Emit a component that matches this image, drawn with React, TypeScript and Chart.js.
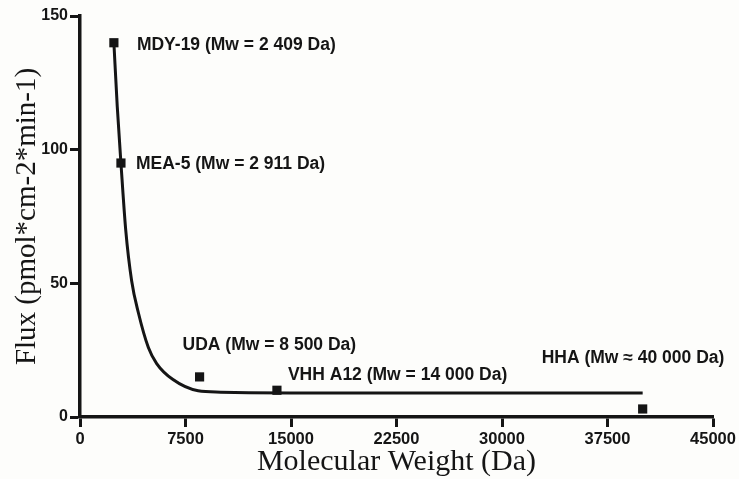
import { useEffect, useRef } from "react";
import { Chart, registerables } from "chart.js";

Chart.register(...registerables);

// Measured peptides / proteins
const pointNames = [
  "MDY-19 (Mw = 2 409 Da)",
  "MEA-5 (Mw = 2 911 Da)",
  "UDA (Mw = 8 500 Da)",
  "VHH A12 (Mw = 14 000 Da)",
  "HHA (Mw \u2248 40 000 Da)",
];
const pointMw = [2409, 2911, 8500, 14000, 40000];
const pointFlux = [140, 95, 15, 10, 3];

// Fitted decay curve
const curveMw = [2409, 2650, 2911, 3250, 3670, 4150, 4860, 5450, 6610, 8400, 10000, 12000, 15000, 20000, 30000, 40000];
const curveFlux = [140, 116, 95, 70, 51, 39, 26, 20, 14, 9.8, 9.3, 9.1, 9.0, 9.0, 9.0, 9.0];

const xTicks = [0, 7500, 15000, 22500, 30000, 37500, 45000];
const yTicks = [0, 50, 100, 150];

const xTitle = "Molecular Weight (Da)";
const yTitle = "Flux (pmol*cm-2*min-1)";

// label offsets (pixels) relative to each point
const labelDx = [23, 15, -17, 11, -101];
const labelDy = [2, 1, -32, -15, -51];

const INK = "#151515";
const SANS = "'Liberation Sans', Arial, sans-serif";
const SERIF = "'Liberation Serif', 'Times New Roman', serif";

const labelPlugin = {
  id: "pointLabels",
  afterDatasetsDraw(chart: any) {
    const { ctx, scales } = chart;
    ctx.save();
    ctx.fillStyle = INK;
    ctx.font = `bold 17.5px ${SANS}`;
    ctx.textAlign = "left";
    ctx.textBaseline = "middle";
    pointNames.forEach((name, i) => {
      const px = scales.x.getPixelForValue(pointMw[i]) + labelDx[i];
      const py = scales.y.getPixelForValue(pointFlux[i]) + labelDy[i];
      ctx.fillText(name, px, py);
    });
    ctx.restore();
  },
};

export default function App() {
  const ref = useRef<HTMLCanvasElement | null>(null);

  useEffect(() => {
    if (!ref.current) return;
    const chart = new Chart(ref.current, {
      type: "scatter",
      data: {
        datasets: [
          {
            type: "line",
            label: "fit",
            data: curveMw.map((x, i) => ({ x, y: curveFlux[i] })),
            borderColor: INK,
            borderWidth: 3,
            pointRadius: 0,
            fill: false,
            cubicInterpolationMode: "monotone",
          } as any,
          {
            type: "scatter",
            label: "data",
            data: pointMw.map((x, i) => ({ x, y: pointFlux[i] })),
            pointStyle: "rect",
            pointRadius: 6.5,
            pointBackgroundColor: INK,
            pointBorderWidth: 0,
            showLine: false,
          } as any,
        ],
      },
      options: {
        animation: false,
        responsive: false,
        layout: { padding: { top: 16, right: 26, left: 0, bottom: 0 } },
        plugins: { legend: { display: false }, tooltip: { enabled: false } },
        scales: {
          x: {
            type: "linear",
            min: 0,
            max: 45000,
            afterBuildTicks: (s: any) => {
              s.ticks = xTicks.map((v) => ({ value: v }));
            },
            afterFit: (s: any) => {
              s.height = 62;
            },
            border: { display: true, color: INK, width: 3.5 },
            grid: { drawOnChartArea: false, drawTicks: true, tickLength: 10, tickWidth: 3, tickColor: INK, color: INK },
            ticks: {
              color: INK,
              font: { family: SANS, size: 16.5, weight: "bold" },
              padding: 3,
              maxRotation: 0,
              autoSkip: false,
              callback: (v: any) => String(v),
            },
            title: {
              display: true,
              text: xTitle,
              color: INK,
              font: { family: SERIF, size: 30, weight: "normal" },
              padding: { top: 0, bottom: -1 },
            },
          },
          y: {
            type: "linear",
            min: 0,
            max: 150,
            afterBuildTicks: (s: any) => {
              s.ticks = yTicks.map((v) => ({ value: v }));
            },
            afterFit: (s: any) => {
              s.width = 80;
            },
            border: { display: true, color: INK, width: 3.5 },
            grid: { drawOnChartArea: false, drawTicks: true, tickLength: 10, tickWidth: 3, tickColor: INK, color: INK },
            ticks: {
              color: INK,
              font: { family: SANS, size: 16, weight: "bold" },
              padding: 2,
              autoSkip: false,
              callback: (v: any) => String(v),
            },
            title: {
              display: true,
              text: yTitle,
              color: INK,
              font: { family: SERIF, size: 29, weight: "normal" },
              padding: { top: 10, bottom: 0 },
            },
          },
        },
      },
      plugins: [labelPlugin],
    });
    return () => chart.destroy();
  }, []);

  return (
    <div style={{ position: "fixed", left: 0, top: 0, width: 739, height: 479, background: "#fdfdfb" }}>
      <canvas ref={ref} width={739} height={479} style={{ display: "block", width: 739, height: 479 }} />
    </div>
  );
}
